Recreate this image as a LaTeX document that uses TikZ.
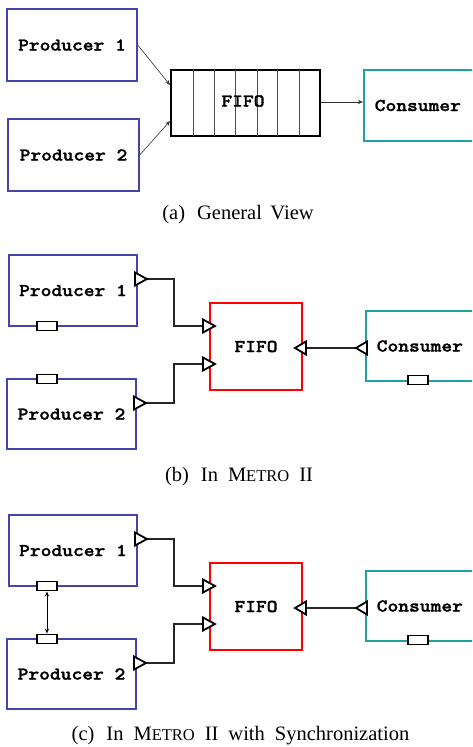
\documentclass[tikz,border=0pt]{standalone}
\usepackage{fontspec}
\setmainfont{Liberation Serif}
\newfontfamily\codefont{lmmonolt10-bold.otf}[FakeStretch=1.14,FakeBold=1.6]
\usetikzlibrary{arrows.meta,calc}
\definecolor{pblue}{RGB}{68,68,170}
\definecolor{cteal}{RGB}{32,160,160}
\definecolor{fred}{RGB}{255,0,0}
\newcommand\wsp{\hspace{10pt}}
\tikzset{
  codetext/.style={font=\codefont\fontsize{18}{18}\selectfont},
  comp/.style={draw, line width=1.5pt, inner sep=0pt, codetext},
  prod/.style={comp, draw=pblue},
  cons/.style={comp, draw=cteal, anchor=west, text width=97pt, align=left, inner xsep=11pt, inner ysep=0pt},
  fifob/.style={comp, draw=fred},
  fifoa/.style={comp, draw=black, line width=2pt},
  slot/.style={line width=1pt, draw=black!70},
  port/.style={draw=black, fill=white, line width=1.8pt, minimum width=20pt, minimum height=9pt, inner sep=0pt},
  tri/.style={draw=black, fill=white, line width=1.8pt},
  wire/.style={draw=black!85, line width=1.2pt},
  thinarrow/.style={draw=black!80, line width=0.6pt, -{Stealth[length=5pt,width=4pt]}},
  sync/.style={draw=black, line width=1pt, {Stealth[length=5pt,width=4pt]}-{Stealth[length=5pt,width=4pt]}},
  caption/.style={font=\fontsize{20.5}{24}\selectfont, inner sep=0pt}
}
\newcommand\rtri[2]{\draw[tri] (#1,#2-6.5) -- (#1+12,#2) -- (#1,#2+6.5) -- cycle;}
\newcommand\ltri[2]{\draw[tri] (#1+11,#2-6.5) -- (#1,#2) -- (#1+11,#2+6.5) -- cycle;}
\newcommand\metrosc{M{\fontsize{16.5}{16.5}\selectfont ETRO}}
\newcommand\metropanel[2]{%
\begin{scope}[shift={(0,#2)}]
  \node[prod, minimum width=128pt, minimum height=71pt] (p1#1) at (73,290.5) {Producer 1};
  \node[prod, minimum width=129pt, minimum height=70pt] (p2#1) at (71.5,414) {Producer 2};
  \node[fifob, minimum width=92pt, minimum height=87pt] (f#1) at (256,346.5) {FIFO};
  \node[cons, minimum height=70pt] (c#1) at (365,346) {Consumer};
  \node[port] (p1port#1) at (47,326) {};
  \node[port] (p2port#1) at (47,379) {};
  \node[port] (cport#1) at (418,380) {};
  \coordinate (o1#1) at (147,279);
  \coordinate (i1#1) at (203,326);
  \coordinate (o2#1) at (146,403);
  \coordinate (i2#1) at (203,364);
  \coordinate (ci#1) at (356,348);
  \coordinate (fo#1) at (306,348);
  \draw[wire] (o1#1) -- ++(27,0) |- (i1#1);
  \draw[wire] (o2#1) -- ++(28,0) |- (i2#1);
  \draw[wire] (fo#1) -- (ci#1);
  \rtri{135}{279}
  \rtri{203}{326}
  \rtri{134}{403}
  \rtri{203}{364}
  \ltri{356}{348}
  \ltri{295}{348}
\end{scope}}
\begin{document}
\begin{tikzpicture}[x=1pt,y=-1pt]
\useasboundingbox (0,0) rectangle (472,747);
\clip (0,0) rectangle (472,747);
% ---- (a) General view
\node[prod, minimum width=130pt, minimum height=72pt] (p1a) at (72,45) {Producer 1};
\node[prod, minimum width=131pt, minimum height=72pt] (p2a) at (73.5,155) {Producer 2};
\node[fifoa, minimum width=149pt, minimum height=66pt] (fa) at (245.5,103) {};
\foreach \x in {193,214,235,257,277,299}
  \draw[slot] (\x,70) -- (\x,136);
\node[codetext, inner sep=0pt] (fatext) at (243,101) {FIFO};
\node[cons, minimum height=71pt] (ca) at (363,105.5) {Consumer};
\draw[thinarrow] (p1a.east) -- ($(fa.west)+(0,-18)$);
\draw[thinarrow] (p2a.east) -- ($(fa.west)+(0,18)$);
\draw[thinarrow] ($(fa.east)+(0,-1)$) -- ($(ca.west)+(0,-3.5)$);
\node[caption] (capa) at (238,215) {(a)\hspace{12pt}General\hspace{8.5pt}View};
% ---- (b)
\metropanel{b}{0}
\node[caption] (capb) at (239,477) {(b)\hspace{12pt}In\wsp\metrosc\wsp II};
% ---- (c)
\metropanel{c}{260}
\draw[sync] (p1portc.south) -- (p2portc.north);
\node[caption] (capc) at (240.5,736) {(c)\hspace{12pt}In\wsp\metrosc\wsp II\wsp with\wsp Synchronization};
\end{tikzpicture}
\end{document}
